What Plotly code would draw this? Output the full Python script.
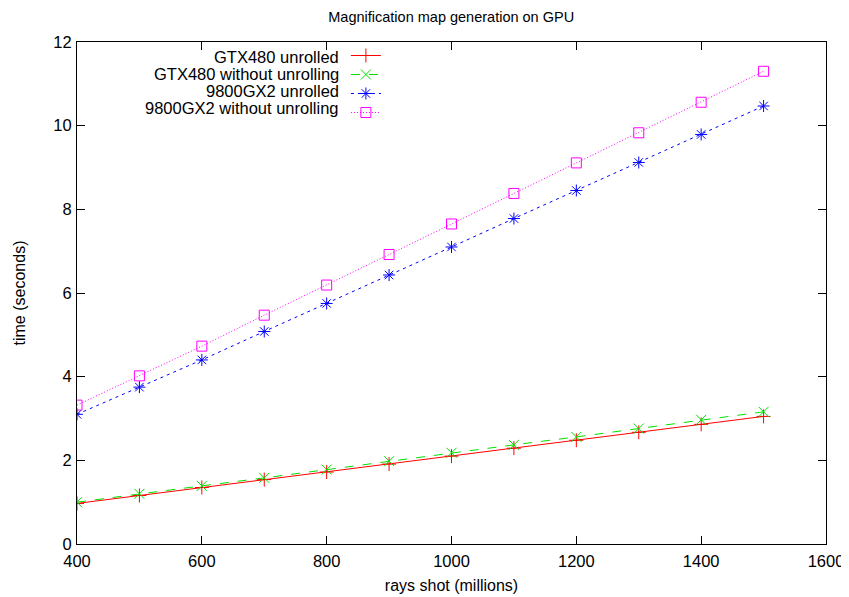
import plotly.graph_objects as go

rays = [400, 500, 600, 700, 800, 900, 1000, 1100, 1200, 1300, 1400, 1500]
gtx480_unrolled = [0.97, 1.16, 1.35, 1.54, 1.72, 1.91, 2.10, 2.29, 2.48, 2.67, 2.86, 3.05]
gtx480_plain = [1.00, 1.20, 1.39, 1.58, 1.78, 1.98, 2.18, 2.37, 2.56, 2.76, 2.97, 3.16]
gx2_unrolled = [3.10, 3.75, 4.40, 5.08, 5.75, 6.43, 7.10, 7.78, 8.45, 9.12, 9.79, 10.47]
gx2_plain = [3.32, 4.02, 4.73, 5.47, 6.19, 6.92, 7.65, 8.38, 9.11, 9.83, 10.56, 11.30]
names = ["GTX480 unrolled", "GTX480 without unrolling", "9800GX2 unrolled", "9800GX2 without unrolling"]

FONT = "Liberation Sans, Arial, Helvetica, sans-serif"

series = [
    (gtx480_unrolled, "#ff0000", "solid", "cross-thin"),
    (gtx480_plain, "#00e000", "dash", "x-thin"),
    (gx2_unrolled, "#0000ff", "3px,4px", "asterisk-open"),
    (gx2_plain, "#ff00ff", "1px,2px", "square-open"),
]

fig = go.Figure()
for (vals, col, dash, sym), nm in zip(series, names):
    fig.add_trace(go.Scatter(
        x=rays, y=vals, mode="lines+markers", name=" ",
        hovertext=nm,
        line=dict(color=col, width=1, dash=dash),
        marker=dict(symbol=sym, size=10, color=col, line=dict(color=col, width=1)),
    ))

# legend labels (right-aligned text to the left of the samples)
for i, nm in enumerate(names):
    fig.add_annotation(
        x=0.353, y=0.970 - i * 0.034, xref="paper", yref="paper",
        xanchor="right", yanchor="middle", text=nm, showarrow=False,
        font=dict(family=FONT, size=16.5, color="#000"),
    )

axis_common = dict(
    showgrid=False, zeroline=False, showline=True, linecolor="#000", linewidth=1,
    mirror="allticks", ticks="inside", ticklen=8, tickcolor="#000", automargin=False,
    tickfont=dict(family=FONT, size=16.5, color="#000"),
)

# page body has an 8px margin, so the figure is sized/placed to compensate
fig.update_layout(
    width=841, height=589,
    margin=dict(l=69, r=23, t=34, b=53),
    paper_bgcolor="white", plot_bgcolor="white",
    title=dict(text="Magnification map generation on GPU", x=0.527, xanchor="center",
               y=0.985, yanchor="middle", font=dict(family=FONT, size=14.5, color="#000")),
    xaxis=dict(range=[400, 1600], dtick=200, tick0=400, ticklabelstandoff=2,
               title=dict(text="rays shot (millions)", standoff=11,
                          font=dict(family=FONT, size=16, color="#000")),
               **axis_common),
    yaxis=dict(range=[0, 12], dtick=2, tick0=0, ticklabelstandoff=1,
               title=dict(text="time (seconds)", standoff=23,
                          font=dict(family=FONT, size=16, color="#000")),
               **axis_common),
    showlegend=True,
    legend=dict(x=0.359, y=1.002, xanchor="left", yanchor="top", bgcolor="rgba(0,0,0,0)",
                font=dict(family=FONT, size=11), tracegroupgap=0, itemwidth=30),
)

fig.write_html("out.html",
               post_script="document.documentElement.style.overflow='hidden';"
                           "document.body.style.overflow='hidden';")
